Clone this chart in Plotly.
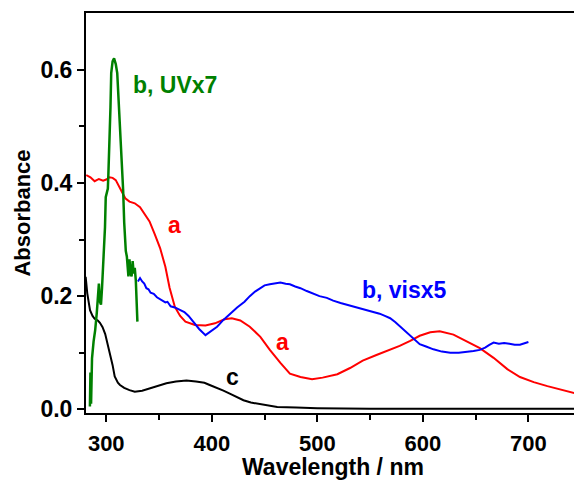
import plotly.graph_objects as go

# Curve a (red)
a_wl = [281, 285, 289, 293, 297, 300, 303, 306, 309, 312, 315, 318, 322, 327, 332, 337, 341, 346, 351, 356,
        360, 365, 370, 375, 384, 394, 403, 412, 419, 427, 436, 446, 455, 465, 474, 484, 495, 505, 519, 531,
        543, 556, 569, 578, 588, 597, 607, 616, 629, 642, 654, 667, 680, 692, 705, 718, 730, 745]
a_abs = [0.414, 0.410, 0.403, 0.407, 0.404, 0.406, 0.410, 0.409, 0.405, 0.394, 0.382, 0.373, 0.367, 0.364,
         0.357, 0.344, 0.332, 0.309, 0.285, 0.252, 0.215, 0.181, 0.165, 0.155, 0.149, 0.148, 0.152, 0.159,
         0.161, 0.157, 0.146, 0.128, 0.105, 0.082, 0.063, 0.057, 0.053, 0.056, 0.062, 0.073, 0.086, 0.096,
         0.105, 0.112, 0.121, 0.130, 0.136, 0.138, 0.132, 0.120, 0.108, 0.091, 0.071, 0.057, 0.048, 0.041,
         0.035, 0.028]

# Curve b, vis x5 (blue)
bvis_wl = [330, 332, 334, 336, 338, 340, 342, 345, 348, 352, 356, 358, 361, 365, 370, 374, 378, 383, 388, 394,
           400, 405, 411, 418, 424, 431, 436, 441, 446, 450, 455, 460, 465, 470, 474, 479, 484, 490, 496, 502,
           509, 515, 522, 528, 534, 540, 547, 553, 559, 564, 569, 574, 578, 583, 588, 593, 597, 603, 610, 618,
           626, 634, 642, 648, 654, 659, 663, 667, 672, 677, 682, 687, 692, 696, 700]
bvis_abs = [0.226, 0.232, 0.226, 0.222, 0.214, 0.212, 0.206, 0.204, 0.198, 0.194, 0.189, 0.190, 0.182, 0.180,
            0.176, 0.172, 0.165, 0.154, 0.142, 0.131, 0.139, 0.146, 0.158, 0.170, 0.180, 0.190, 0.200, 0.208,
            0.215, 0.219, 0.221, 0.223, 0.224, 0.222, 0.221, 0.217, 0.214, 0.209, 0.204, 0.200, 0.197, 0.192,
            0.188, 0.185, 0.181, 0.178, 0.175, 0.172, 0.169, 0.165, 0.161, 0.154, 0.147, 0.138, 0.129, 0.121,
            0.115, 0.111, 0.106, 0.102, 0.100, 0.100, 0.101, 0.103, 0.105, 0.109, 0.114, 0.118, 0.116, 0.117,
            0.116, 0.114, 0.114, 0.117, 0.119]

# Curve b, UV x7 (green)
buv_wl = [284.5, 285, 285.6, 286.5, 288, 289.5, 291, 292, 293, 294, 295, 296, 297.5, 298.8, 299.5, 300.5,
          301.5, 302, 302.6, 304, 304.7, 306, 307.4, 309, 310.4, 312, 313.5, 315, 316, 317, 317.8, 318.5,
          319.5, 320.5, 321, 322, 323, 324, 325, 326, 327, 328, 328.8, 329.5]
buv_abs = [0.005, 0.065, 0.010, 0.090, 0.120, 0.140, 0.170, 0.200, 0.222, 0.190, 0.185, 0.215, 0.270, 0.322,
           0.375, 0.382, 0.390, 0.415, 0.444, 0.534, 0.594, 0.615, 0.620, 0.610, 0.594, 0.534, 0.490, 0.444,
           0.387, 0.330, 0.287, 0.280, 0.270, 0.245, 0.235, 0.265, 0.240, 0.235, 0.262, 0.240, 0.250, 0.228,
           0.190, 0.155]

# Curve c (black)
c_wl = [280.5, 282, 284.6, 287, 289, 292, 294, 296.5, 299, 301.5, 303.5, 306, 308, 311, 313, 317, 322, 327,
        334, 341, 349, 357, 366, 376, 385, 393, 398, 405, 411, 418, 425, 430, 437, 446, 455, 462, 480, 500,
        550, 600, 650, 700, 745]
c_abs = [0.234, 0.205, 0.175, 0.165, 0.160, 0.157, 0.153, 0.145, 0.133, 0.115, 0.100, 0.078, 0.058, 0.047,
         0.043, 0.038, 0.034, 0.031, 0.033, 0.037, 0.042, 0.046, 0.049, 0.051, 0.049, 0.047, 0.043, 0.038,
         0.033, 0.027, 0.021, 0.016, 0.012, 0.009, 0.006, 0.004, 0.003, 0.002, 0.001, 0.001, 0.001, 0.001,
         0.001]

x_ticks = [300, 400, 500, 600, 700]
y_ticks = [0.0, 0.2, 0.4, 0.6]
y_tick_labels = ["0.0", "0.2", "0.4", "0.6"]

labels = [
    ("b, UVx7", 365, 0.573, "#008000"),
    ("a", 365, 0.326, "#ff0000"),
    ("b, visx5", 583, 0.210, "#0000ff"),
    ("a", 467, 0.119, "#ff0000"),
    ("c", 420, 0.057, "#000000"),
]

FONT = "Liberation Sans, Arial, Helvetica, sans-serif"

fig = go.Figure()
fig.add_trace(go.Scatter(x=c_wl, y=c_abs, mode="lines", line=dict(color="#000000", width=2), showlegend=False))
fig.add_trace(go.Scatter(x=a_wl, y=a_abs, mode="lines", line=dict(color="#ff0000", width=2), showlegend=False))
fig.add_trace(go.Scatter(x=bvis_wl, y=bvis_abs, mode="lines", line=dict(color="#0000ff", width=2), showlegend=False))
fig.add_trace(go.Scatter(x=buv_wl, y=buv_abs, mode="lines", line=dict(color="#008000", width=2.5), showlegend=False))

for text, x, y, col in labels:
    fig.add_annotation(x=x, y=y, text=text, showarrow=False,
                       font=dict(family=FONT, size=23, color=col, weight="bold"))

# x-axis title
fig.add_annotation(x=0.507, y=-0.134, xref="paper", yref="paper", text="Wavelength / nm",
                   showarrow=False, xanchor="center", yanchor="middle",
                   font=dict(family=FONT, size=23, color="black", weight="bold"))

fig.update_layout(
    width=574, height=481,
    margin=dict(l=86, r=0, t=13, b=68),
    paper_bgcolor="white", plot_bgcolor="white",
    font=dict(family=FONT, color="black", weight="bold"),
)
fig.update_xaxes(
    range=[280.8, 743.2], tickvals=x_ticks, ticktext=[str(v) for v in x_ticks],
    ticks="outside", ticklen=7, tickwidth=2, tickcolor="black",
    minor=dict(tickvals=[350, 450, 550, 650], ticks="outside", ticklen=5, tickwidth=2, tickcolor="black"),
    showline=True, linewidth=2, linecolor="black", mirror=True,
    showgrid=False, zeroline=False, automargin=False,
    tickfont=dict(family=FONT, size=22, weight="bold"), ticklabelstandoff=3,
)
fig.update_yaxes(
    range=[-0.0065, 0.7003], tickvals=y_ticks, ticktext=y_tick_labels,
    ticks="outside", ticklen=7, tickwidth=2, tickcolor="black",
    minor=dict(tickvals=[0.1, 0.3, 0.5], ticks="outside", ticklen=5, tickwidth=2, tickcolor="black"),
    showline=True, linewidth=2, linecolor="black", mirror=False,
    showgrid=False, zeroline=False, automargin=False,
    tickfont=dict(family=FONT, size=23, weight="bold"), ticklabelstandoff=0,
    title=dict(text="Absorbance", font=dict(family=FONT, size=22, weight="bold"), standoff=4),
)

fig.write_html("out.html")
